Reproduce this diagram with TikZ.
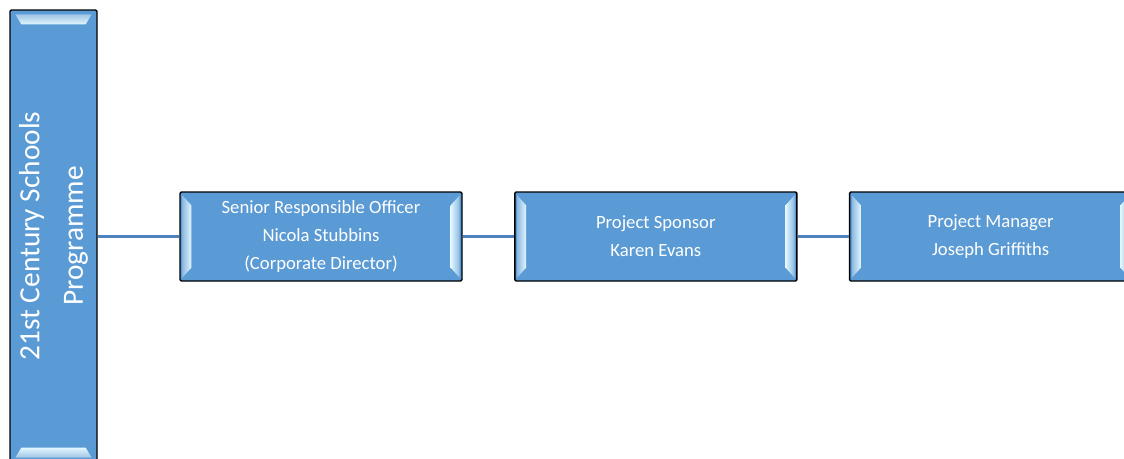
\documentclass[tikz,border=0pt]{standalone}
\usepackage{fontspec}
\setmainfont{Carlito}
\usetikzlibrary{calc,positioning}
\definecolor{boxblue}{HTML}{5B9BD5}
\definecolor{linkblue}{HTML}{4F81BD}
\definecolor{bevellight}{HTML}{E2F6FD}
\tikzset{every picture/.style={
  x=0.75pt, y=-0.75pt            % One unit is one pixel, y runs down.
  }
}

% Light side strips of a role box.
\newcommand\sidebevels[1]{%
  \shade[left color=boxblue!70!white, right color=bevellight]
    ($(#1.north west)+(3,4)$) -- ($(#1.north west)+(12,14)$) --
    ($(#1.south west)+(12,-14)$) -- ($(#1.south west)+(3,-4)$) -- cycle;
  \shade[right color=boxblue!70!white, left color=bevellight]
    ($(#1.north east)+(-3,4)$) -- ($(#1.north east)+(-12,14)$) --
    ($(#1.south east)+(-12,-14)$) -- ($(#1.south east)+(-3,-4)$) -- cycle;
}

\begin{document}
\begin{tikzpicture}[
      node distance=38.5pt,
      role/.style={
        draw=black,
        line width=1.1pt,
        rounded corners=1pt,
        fill=boxblue,
        text=white,
        minimum width=211.5pt,
        minimum height=66.75pt,
        inner sep=0pt,
        align=center,
        font=\fontsize{14}{21}\selectfont
      },
      link/.style={draw=linkblue, line width=2.25pt}]

      \useasboundingbox (0,0) rectangle (1124,458);
      \clip (0,0) rectangle (1124,458);

      % The programme bar on the left.
      \node[role, minimum width=65.25pt, minimum height=339pt] (prog) at (53.5,236) {};
      \shade[top color=boxblue!60!white, bottom color=bevellight]
        ($(prog.north west)+(6,5)$) -- ($(prog.north east)+(-6,5)$) --
        ($(prog.north east)+(-12,15)$) -- ($(prog.north west)+(12,15)$) -- cycle;
      \shade[bottom color=boxblue!60!white, top color=bevellight]
        ($(prog.south west)+(6,-5)$) -- ($(prog.south east)+(-6,-5)$) --
        ($(prog.south east)+(-12,-15)$) -- ($(prog.south west)+(12,-15)$) -- cycle;
      \node[rotate=90, text=white, align=center,
        font=\fontsize{22}{32.5}\selectfont] (progtxt) at (prog.center)
        {21st Century Schools\\Programme};

      % The three roles.
      \node[role] (sro) at (321,236.5)
        {Senior Responsible Officer\\Nicola Stubbins\\(Corporate Director)};
      \node[role, right=of sro] (sponsor) {Project Sponsor\\Karen Evans};
      \node[role, right=of sponsor] (manager) {Project Manager\\Joseph Griffiths};

      \sidebevels{sro}
      \sidebevels{sponsor}
      \sidebevels{manager}

      % Links between them.
      \draw[link] (prog.east |- sro.west) -- (sro.west);
      \draw[link] (sro.east) -- (sponsor.west);
      \draw[link] (sponsor.east) -- (manager.west);

    \end{tikzpicture}
\end{document}
